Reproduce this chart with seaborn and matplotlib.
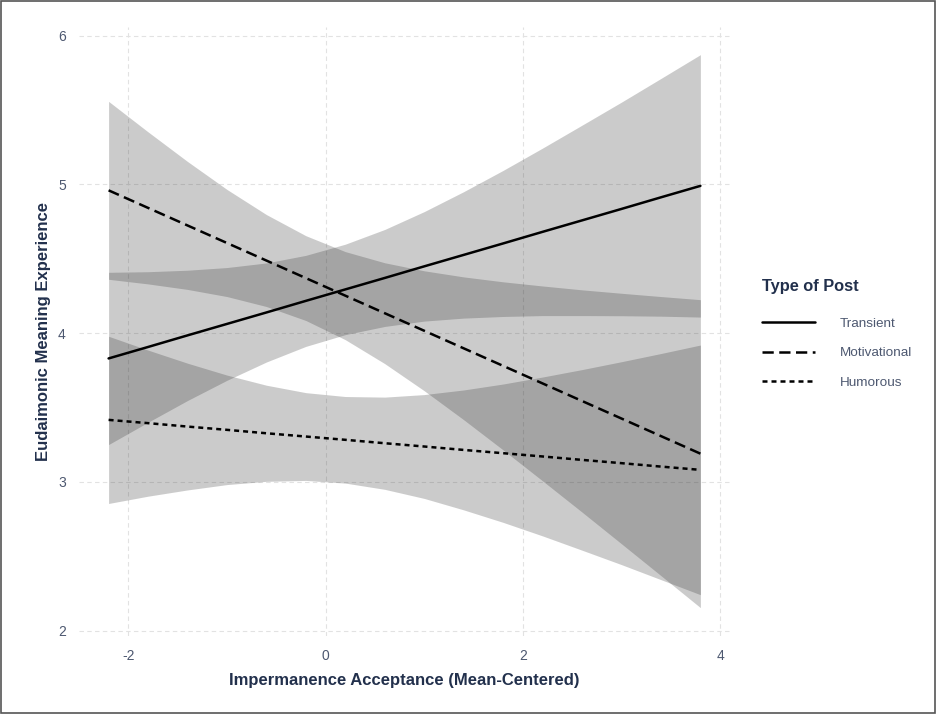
import pandas as pd
import seaborn as sns
import matplotlib.pyplot as plt
from matplotlib.patches import Rectangle

x_vals = [-2.2, -1.8, -1.4, -1.0, -0.6, -0.2, 0.2, 0.6, 1.0, 1.4, 1.8, 2.2, 2.6, 3.0, 3.4, 3.8]

post_types = ['Transient', 'Motivational', 'Humorous']

# fitted lines
transient_fit = [3.830, 3.907, 3.985, 4.062, 4.139, 4.217, 4.294, 4.371,
                 4.449, 4.526, 4.603, 4.681, 4.758, 4.835, 4.913, 4.990]
motivational_fit = [4.960, 4.842, 4.724, 4.606, 4.488, 4.370, 4.252, 4.134,
                    4.016, 3.898, 3.780, 3.662, 3.544, 3.426, 3.308, 3.190]
humorous_fit = [3.417, 3.395, 3.372, 3.350, 3.327, 3.305, 3.283, 3.260,
                3.238, 3.215, 3.193, 3.171, 3.148, 3.126, 3.103, 3.081]

# confidence bands
transient_lo = [3.251, 3.401, 3.547, 3.683, 3.806, 3.911, 3.990, 4.045,
                4.081, 4.101, 4.112, 4.118, 4.118, 4.117, 4.114, 4.108]
transient_hi = [4.409, 4.413, 4.423, 4.441, 4.472, 4.523, 4.598, 4.697,
                4.817, 4.951, 5.094, 5.244, 5.398, 5.553, 5.712, 5.872]
motivational_lo = [4.362, 4.331, 4.294, 4.246, 4.179, 4.085, 3.956, 3.795,
                   3.613, 3.418, 3.215, 3.007, 2.797, 2.584, 2.370, 2.155]
motivational_hi = [5.558, 5.353, 5.154, 4.966, 4.797, 4.655, 4.548, 4.473,
                   4.419, 4.378, 4.345, 4.317, 4.291, 4.268, 4.246, 4.225]
humorous_lo = [2.855, 2.904, 2.946, 2.982, 3.004, 3.010, 2.992, 2.950,
               2.889, 2.812, 2.728, 2.637, 2.541, 2.444, 2.343, 2.242]
humorous_hi = [3.979, 3.886, 3.798, 3.718, 3.650, 3.600, 3.574, 3.570,
               3.587, 3.618, 3.658, 3.705, 3.755, 3.808, 3.863, 3.920]

bands = [(transient_lo, transient_hi), (motivational_lo, motivational_hi), (humorous_lo, humorous_hi)]

#long form table for seaborn
df = pd.DataFrame({
    'x': x_vals * 3,
    'y': transient_fit + motivational_fit + humorous_fit,
    'Type of Post': [p for p in post_types for _ in x_vals],
})

sns.set_theme(style='white')
plt.rcParams['font.family'] = ['Liberation Sans', 'DejaVu Sans']
plt.rcParams['axes.unicode_minus'] = False

title_col = '#22304c'
tick_col = '#4d5870'

fig = plt.figure(figsize=(9.36, 7.14), dpi=100)
ax = fig.add_axes([0.0844, 0.1092, 0.6955, 0.853])

#shaded bands first
for lo, hi in bands:
    ax.fill_between(x_vals, lo, hi, color='#262626', alpha=0.235, linewidth=0, zorder=1)

sns.lineplot(data=df, x='x', y='y', style='Type of Post', style_order=post_types,
             dashes={'Transient': '', 'Motivational': (4.5, 2.2), 'Humorous': (2.0, 1.6)},
             color='black', linewidth=1.8, errorbar=None, ax=ax, zorder=3)

ax.set_xlim(-2.5, 4.1)
ax.set_ylim(1.964, 6.058)
ax.set_xticks([-2, 0, 2, 4])
ax.set_yticks([2, 3, 4, 5, 6])
ax.grid(True, color='#e2e2e2', linestyle=(0, (4, 3)), linewidth=0.8, zorder=0)
ax.set_axisbelow(True)
for s in ax.spines.values():
    s.set_visible(False)
ax.tick_params(length=0, pad=9.5, labelsize=10, labelcolor=tick_col)

ax.set_xlabel('Impermanence Acceptance (Mean-Centered)', fontsize=12, fontweight='bold',
              color=title_col, labelpad=7)
ax.set_ylabel('Eudaimonic Meaning Experience', fontsize=12, fontweight='bold',
              color=title_col, labelpad=5)

#rebuild the legend in the right margin
old = ax.get_legend()
handles = old.legend_handles
labels = [t.get_text() for t in old.get_texts()]
old.remove()
leg = ax.legend(handles, labels, title='Type of Post', loc='upper left',
                bbox_to_anchor=(762 / 936, 1 - 279 / 714), bbox_transform=fig.transFigure,
                frameon=False, handlelength=3.9, handletextpad=1.9, labelspacing=1.25,
                fontsize=9.7, borderpad=0, borderaxespad=0, alignment='left',
                title_fontproperties={'weight': 'bold', 'size': 11.8})
leg._legend_box.sep = 17
leg.get_title().set_color(title_col)
for t in leg.get_texts():
    t.set_color(tick_col)
for h in leg.legend_handles:
    h.set_color('black')
    h.set_linewidth(1.8)

#thin frame around the whole picture
fig.patches.append(Rectangle((0.001, 0.001), 0.998, 0.998, transform=fig.transFigure,
                             fill=False, edgecolor='#555555', linewidth=1.2))

plt.savefig('out.png', dpi=100)
